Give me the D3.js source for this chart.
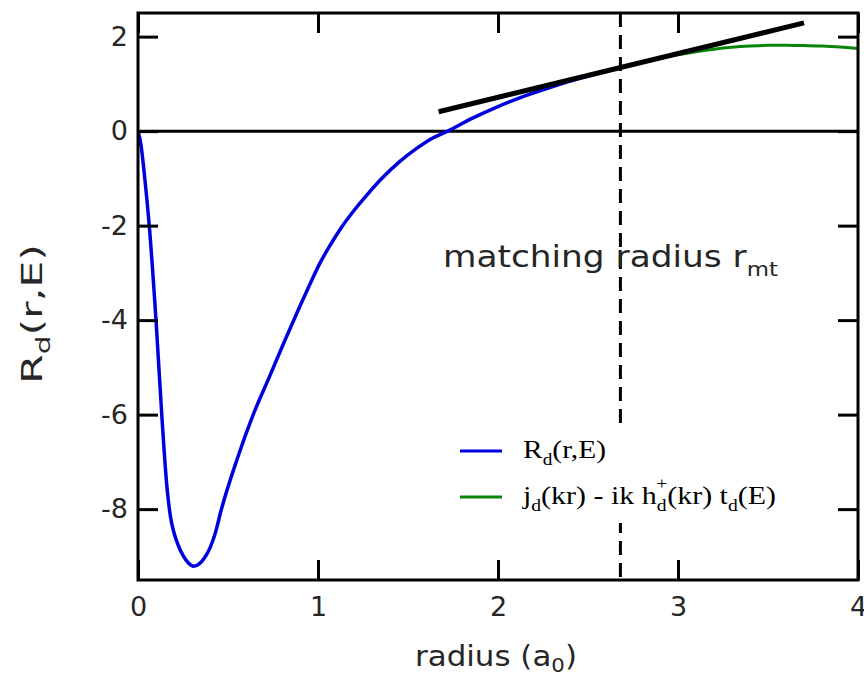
<!DOCTYPE html>
<html>
<head>
<meta charset="utf-8">
<script src="https://cdn.jsdelivr.net/npm/d3@7"></script>
<style>
  html, body { margin: 0; padding: 0; background: #fff; }
  svg { display: block; }
</style>
</head>
<body>
<svg id="chart" width="864" height="678"></svg>
<script>
// Radial function R_d(r,E) inside the matching radius
const innerR = [0, 0.015, 0.035, 0.063, 0.1, 0.132, 0.16, 0.18, 0.2, 0.225, 0.25, 0.28, 0.31, 0.34, 0.37, 0.4, 0.43, 0.46, 0.55, 0.64, 0.73, 0.817, 0.9, 0.96, 1.01, 1.07, 1.13, 1.2, 1.27, 1.35, 1.455, 1.55, 1.63, 1.72, 1.85, 2.0, 2.15, 2.3, 2.45, 2.6, 2.68];
const innerVal = [0, -0.25, -0.9, -2.02, -4.0, -6.0, -7.5, -8.15, -8.5, -8.78, -8.98, -9.14, -9.21, -9.16, -9.03, -8.82, -8.5, -8.05, -6.95, -6.0, -5.2, -4.42, -3.7, -3.2, -2.8, -2.4, -2.04, -1.68, -1.36, -1.02, -0.64, -0.36, -0.16, 0, 0.26, 0.52, 0.745, 0.94, 1.11, 1.26, 1.34];
// Outer solution j_d(kr) - ik h_d+(kr) t_d(E)
const outerR = [2.68, 2.8, 2.9, 3.0, 3.1, 3.2, 3.3, 3.4, 3.5, 3.6, 3.7, 3.8, 3.9, 4.0];
const outerVal = [1.34, 1.45, 1.54, 1.615, 1.68, 1.735, 1.775, 1.80, 1.815, 1.818, 1.81, 1.80, 1.78, 1.75];
// Tangent (log-derivative) line at the matching radius
const tangentR = [1.67, 3.70];
const tangentVal = [0.41, 2.29];
const matchR = 2.68;
const xTicks = [0, 1, 2, 3, 4];
const yTicks = [2, 0, -2, -4, -6, -8];

const svg = d3.select("#chart");
const x = d3.scaleLinear().domain([0, 4]).range([138, 858]);
const y = d3.scaleLinear().domain([-9.5, 2.5]).range([580, 13]);

const sans = "'DejaVu Sans', sans-serif";
const serif = "'Liberation Serif', 'DejaVu Serif', serif";
const ink = "#262626";

svg.append("clipPath").attr("id", "plotClip")
  .append("rect").attr("x", 138).attr("y", 13).attr("width", 720).attr("height", 567);

const plot = svg.append("g").attr("clip-path", "url(#plotClip)");

// zero line
plot.append("line")
  .attr("x1", x(0)).attr("x2", x(4)).attr("y1", y(0)).attr("y2", y(0))
  .attr("stroke", "#000").attr("stroke-width", 3);

const line = d3.line().x(d => x(d[0])).y(d => y(d[1])).curve(d3.curveMonotoneX);

plot.append("path")
  .datum(innerR.map((r, i) => [r, innerVal[i]]))
  .attr("d", line).attr("fill", "none").attr("stroke", "#0000dc").attr("stroke-width", 3.5);

plot.append("path")
  .datum(outerR.map((r, i) => [r, outerVal[i]]))
  .attr("d", line).attr("fill", "none").attr("stroke", "#0a850a").attr("stroke-width", 3);

plot.append("line")
  .attr("x1", x(tangentR[0])).attr("y1", y(tangentVal[0]))
  .attr("x2", x(tangentR[1])).attr("y2", y(tangentVal[1]))
  .attr("stroke", "#000").attr("stroke-width", 5);

// matching radius marker
plot.append("line")
  .attr("x1", x(matchR)).attr("x2", x(matchR)).attr("y1", y(2.5)).attr("y2", y(-9.5))
  .attr("stroke", "#000").attr("stroke-width", 3).attr("stroke-dasharray", "14,8");

// legend
const leg = svg.append("g");
leg.append("rect").attr("x", 452).attr("y", 425).attr("width", 335).attr("height", 98).attr("fill", "#fff");
leg.append("line").attr("x1", 460).attr("x2", 502).attr("y1", 451).attr("y2", 451)
  .attr("stroke", "#0000dc").attr("stroke-width", 3);
leg.append("line").attr("x1", 460).attr("x2", 502).attr("y1", 497).attr("y2", 497)
  .attr("stroke", "#0a850a").attr("stroke-width", 3);

const l1 = leg.append("text").attr("x", 523).attr("y", 458)
  .attr("font-family", serif).attr("font-size", 26).attr("fill", "#000")
  .attr("textLength", 83).attr("lengthAdjust", "spacingAndGlyphs");
l1.append("tspan").text("R");
l1.append("tspan").attr("dy", 7).attr("font-size", 17).text("d");
l1.append("tspan").attr("dy", -7).text("(r,E)");

const l2 = leg.append("text").attr("x", 523).attr("y", 504)
  .attr("font-family", serif).attr("font-size", 26).attr("fill", "#000")
  .attr("textLength", 253).attr("lengthAdjust", "spacingAndGlyphs");
l2.append("tspan").text("j");
l2.append("tspan").attr("dy", 7).attr("font-size", 17).text("d");
l2.append("tspan").attr("dy", -7).text("(kr) - ik h");
l2.append("tspan").attr("dy", 7).attr("font-size", 17).text("d");
l2.append("tspan").attr("dx", -9).attr("dy", -22).attr("font-size", 17).text("+");
l2.append("tspan").attr("dy", 15).text("(kr) t");
l2.append("tspan").attr("dy", 7).attr("font-size", 17).text("d");
l2.append("tspan").attr("dy", -7).text("(E)");

// annotation
const ann = svg.append("text").attr("x", 443).attr("y", 267)
  .attr("font-family", sans).attr("font-size", 30).attr("fill", ink)
  .attr("textLength", 335).attr("lengthAdjust", "spacingAndGlyphs");
ann.append("tspan").text("matching radius r");
ann.append("tspan").attr("dy", 9).attr("font-size", 20).text("mt");

// frame
svg.append("rect").attr("x", 138).attr("y", 13).attr("width", 720).attr("height", 567)
  .attr("fill", "none").attr("stroke", "#000").attr("stroke-width", 3);

// axes with inward ticks on all sides
function styleAxis(g) {
  g.select(".domain").remove();
  g.selectAll(".tick line").attr("stroke", "#000").attr("stroke-width", 3);
  g.selectAll(".tick text").attr("font-family", sans).attr("font-size", 27).attr("fill", ink);
}
svg.append("g").attr("transform", "translate(0,580)")
  .call(d3.axisBottom(x).tickValues(xTicks).tickFormat(d3.format("d")).tickSize(-20).tickPadding(17))
  .call(styleAxis);
svg.append("g").attr("transform", "translate(0,13)")
  .call(d3.axisTop(x).tickValues(xTicks).tickFormat("").tickSize(-20))
  .call(styleAxis);
svg.append("g").attr("transform", "translate(138,0)")
  .call(d3.axisLeft(y).tickValues(yTicks).tickFormat(d => String(d)).tickSize(-20).tickPadding(10))
  .call(styleAxis);
svg.append("g").attr("transform", "translate(858,0)")
  .call(d3.axisRight(y).tickValues(yTicks).tickFormat("").tickSize(-20))
  .call(styleAxis);

// axis titles
const xt = svg.append("text").attr("x", 415).attr("y", 666)
  .attr("font-family", sans).attr("font-size", 29).attr("fill", ink)
  .attr("textLength", 162).attr("lengthAdjust", "spacingAndGlyphs");
xt.append("tspan").text("radius (a");
xt.append("tspan").attr("dy", 6).attr("font-size", 20).text("0");
xt.append("tspan").attr("dy", -6).text(")");

const yt = svg.append("text").attr("transform", "translate(42,384) rotate(-90)")
  .attr("font-family", sans).attr("font-size", 29).attr("fill", ink)
  .attr("textLength", 140).attr("lengthAdjust", "spacingAndGlyphs");
yt.append("tspan").text("R");
yt.append("tspan").attr("dy", 8).attr("font-size", 20).text("d");
yt.append("tspan").attr("dy", -8).text("(r,E)");
</script>
</body>
</html>
